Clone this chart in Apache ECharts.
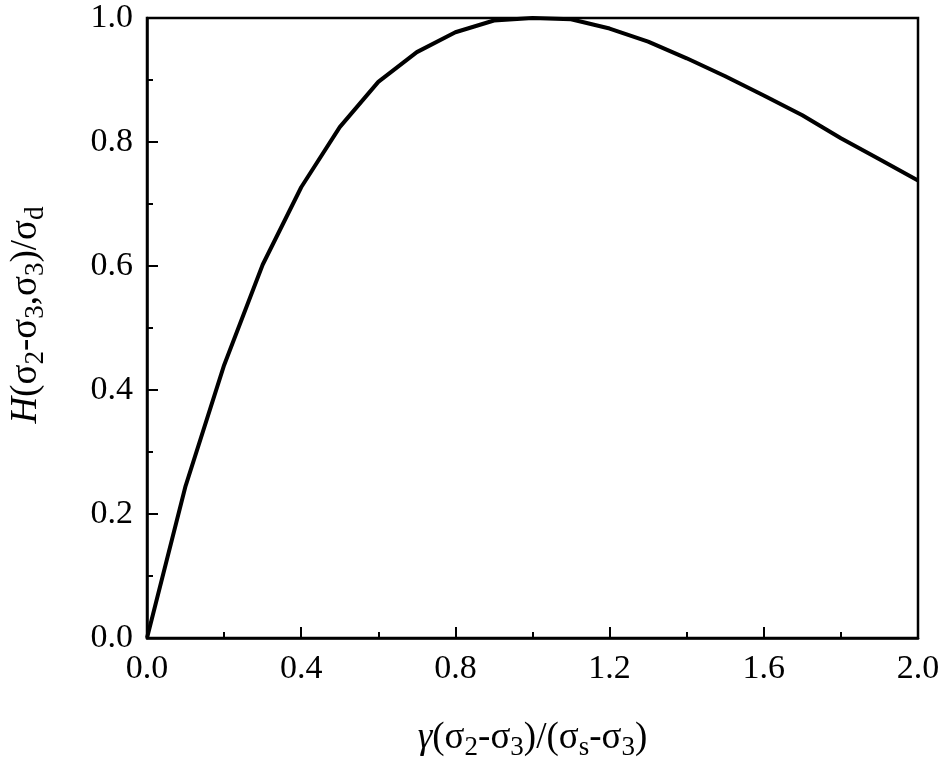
<!DOCTYPE html>
<html>
<head>
<meta charset="utf-8">
<script src="https://cdn.jsdelivr.net/npm/echarts@6/dist/echarts.min.js"></script>
<style>
  html, body { margin: 0; padding: 0; background: #fff; }
  #chart { width: 945px; height: 767px; }
</style>
</head>
<body>
<div id="chart"></div>
<script>
// data
var xValues = [0.0, 0.1, 0.2, 0.3, 0.4, 0.5, 0.6, 0.7, 0.8, 0.9, 1.0,
               1.1, 1.2, 1.3, 1.4, 1.5, 1.6, 1.7, 1.8, 1.9, 2.0];
var hValues = [0.0, 0.245, 0.440, 0.602, 0.727, 0.824, 0.897, 0.945, 0.977, 0.996, 1.0,
               0.998, 0.983, 0.962, 0.935, 0.906, 0.875, 0.843, 0.806, 0.772, 0.738];
var xTicks = [0.0, 0.4, 0.8, 1.2, 1.6, 2.0];
var yTicks = [0.0, 0.2, 0.4, 0.6, 0.8, 1.0];

(function () {
    let myChart = echarts.init(document.getElementById("chart"));
    let font = "'Liberation Serif', 'DejaVu Serif', serif";
    let pts = xValues.map(function (x, i) { return [x, hValues[i]]; });

    let subStyle = { fontFamily: font, fontSize: 27, color: '#000', padding: [18, 0, 0, 0] };
    let mainStyle = { fontFamily: font, fontSize: 37, color: '#000' };
    let italStyle = { fontFamily: font, fontSize: 37, color: '#000', fontStyle: 'italic' };

    let option = {
        animation: false,
        backgroundColor: '#fff',
        grid: {
            left: 147, top: 18, right: 27, bottom: 129,
            show: true, borderColor: '#000', borderWidth: 2.5, backgroundColor: 'transparent'
        },
        xAxis: {
            type: 'value',
            min: xTicks[0],
            max: xTicks[xTicks.length - 1],
            interval: 0.4,
            axisLine: { show: true, lineStyle: { color: '#000', width: 2.5 } },
            axisTick: { show: true, inside: true, length: 11, lineStyle: { color: '#000', width: 2 } },
            minorTick: { show: true, splitNumber: 2, length: 6, lineStyle: { color: '#000', width: 2 } },
            splitLine: { show: false },
            axisLabel: {
                margin: 14, color: '#000', fontFamily: font, fontSize: 34,
                formatter: function (v) { return v.toFixed(1); }
            },
            name: '{i|γ}{m|(σ}{s|2}{m|-σ}{s|3}{m|)/(σ}{s|s}{m|-σ}{s|3}{m|)}',
            nameLocation: 'middle',
            nameGap: 78,
            nameTextStyle: {
                rich: { i: italStyle, m: mainStyle, s: subStyle }
            }
        },
        yAxis: {
            type: 'value',
            min: yTicks[0],
            max: yTicks[yTicks.length - 1],
            interval: 0.2,
            axisLine: { show: true, lineStyle: { color: '#000', width: 2.5 } },
            axisTick: { show: true, inside: true, length: 11, lineStyle: { color: '#000', width: 2 } },
            minorTick: { show: true, splitNumber: 2, length: 6, lineStyle: { color: '#000', width: 2 } },
            splitLine: { show: false },
            axisLabel: {
                margin: 14, color: '#000', fontFamily: font, fontSize: 34,
                formatter: function (v) { return v.toFixed(1); }
            },
            name: '{i|H}{m|(σ}{s|2}{m|-σ}{s|3}{m|,σ}{s|3}{m|)/σ}{s|d}',
            nameLocation: 'middle',
            nameRotate: 90,
            nameGap: 98,
            nameTextStyle: {
                padding: [0, 0, 0, 26],
                rich: { i: italStyle, m: mainStyle, s: subStyle }
            }
        },
        series: [
            {
                type: 'line',
                data: pts,
                smooth: false,
                symbol: 'none',
                lineStyle: { color: '#000', width: 4 }
            }
        ]
    };

    myChart.setOption(option);
    window.addEventListener("resize", function () {
        myChart.resize();
    });
})();
</script>
</body>
</html>
